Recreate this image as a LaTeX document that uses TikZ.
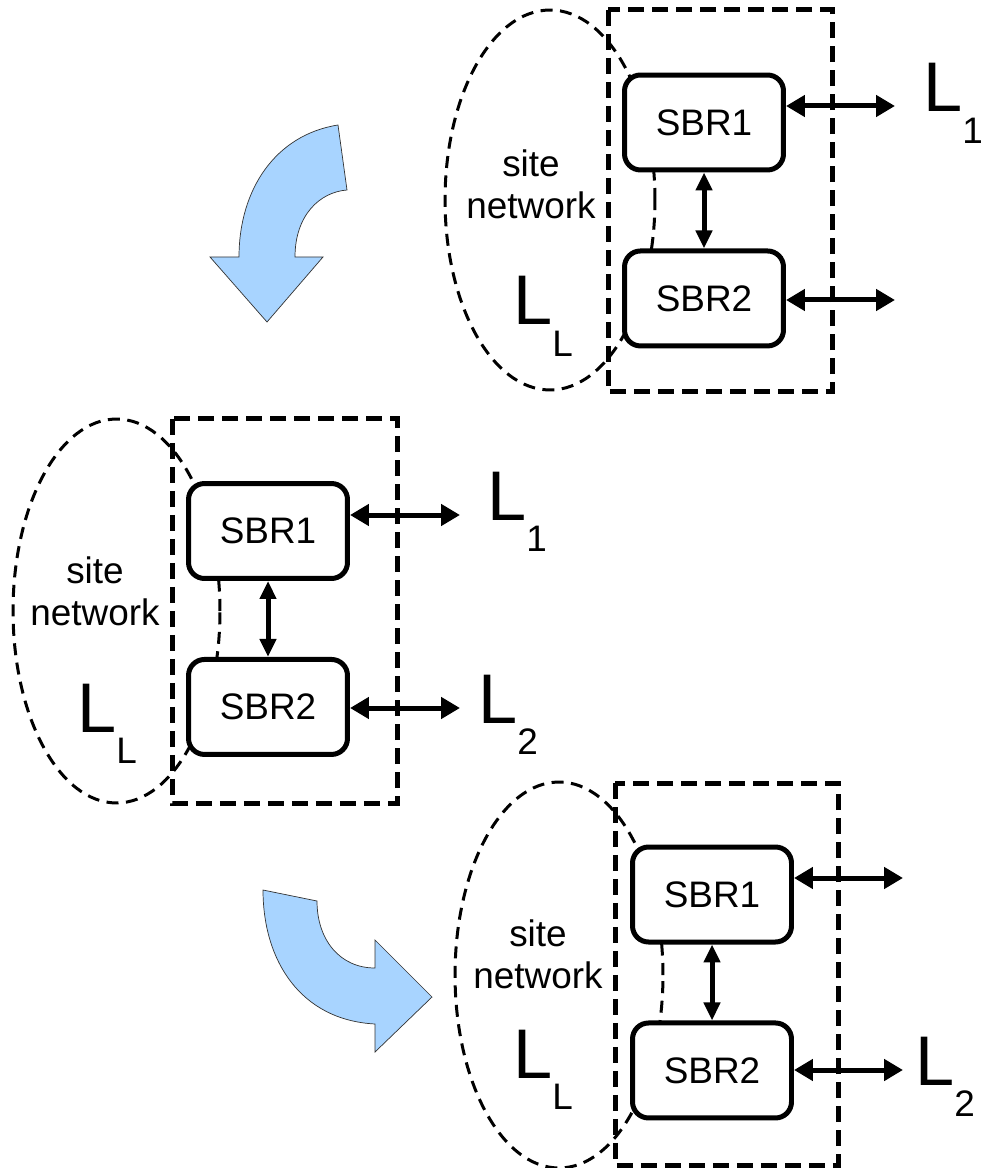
\documentclass[tikz,border=0pt]{standalone}
\usepackage{fontspec}
\setmainfont{Liberation Sans}
\usetikzlibrary{positioning,arrows.meta}

\definecolor{turnblue}{RGB}{168,212,255}

\tikzset{
  sbr/.style={draw, line width=0.1cm, rounded corners=0.32cm, fill=white,
    minimum width=3.18cm, minimum height=1.9cm, font=\fontsize{21}{24}\selectfont},
  site/.style={line width=0.06cm, dash pattern=on 0.24cm off 0.15cm},
  border/.style={line width=0.1cm, dash pattern=on 0.32cm off 0.16cm},
  link/.style={line width=0.1cm,
    {Triangle[length=0.38cm,width=0.42cm]}-{Triangle[length=0.38cm,width=0.42cm]}},
  uplink/.style={line width=0.1cm,
    {Triangle[length=0.36cm,width=0.32cm]}-{Triangle[length=0.36cm,width=0.32cm]}},
  turn/.style={fill=turnblue, draw=black!80, line width=0.4pt},
  big/.style={anchor=base west, inner sep=0pt, font=\fontsize{40}{40}\selectfont},
  net/.style={align=center, font=\fontsize{21}{24}\selectfont}
}
\newcommand{\lname}[1]{L\raisebox{-0.63cm}{\fontsize{21}{21}\selectfont #1}}

\begin{document}
\begin{tikzpicture}[x=0.02cm,y=-0.02cm]
        \useasboundingbox (0,0) rectangle (982,1168);

        % turning arrows
        \draw[turn] (338,125) -- (347,190) .. controls (320,192) and (295,215) .. (295,257)
          -- (323,257) -- (267,322) -- (210,257) -- (239,257)
          .. controls (239,190) and (275,135) .. (338,125) -- cycle;
        \draw[turn] (263,890) -- (317,901) .. controls (317,940) and (340,968) .. (375,968)
          -- (375,940) -- (432,997) -- (375,1052) -- (375,1024)
          .. controls (300,1020) and (263,960) .. (263,890) -- cycle;

        % top: L1 only
        \draw[site] (550,200) ellipse [x radius=2.1cm, y radius=3.8cm];
        \draw[border] (608,10) rectangle (832,392);
        \node[sbr] (sbrA1) at (704,122.5) {SBR1};
        \node[sbr,below=1.52cm of sbrA1] (sbrA2) {SBR2};
        \node[net] (netA) at (531,184) {site\\network};
        \node[big] (llA) at (513,325) {\lname{L}};
        \coordinate (outA1) at (895,106);
        \coordinate (outA2) at (895,300);
        \draw[uplink] (sbrA1) -- (sbrA2);
        \draw[link] (sbrA1.east |- outA1) -- (outA1);
        \draw[link] (sbrA2.east |- outA2) -- (outA2);
        \node[big] (lA1) at (923,112) {\lname{1}};

        % middle: L1 and L2
        \draw[site] (116.5,611) ellipse [x radius=2.07cm, y radius=3.84cm];
        \draw[border] (172,419) rectangle (397,803);
        \node[sbr] (sbrB1) at (268,531) {SBR1};
        \node[sbr,below=1.52cm of sbrB1] (sbrB2) {SBR2};
        \node[net] (netB) at (95,591) {site\\network};
        \node[big] (llB) at (77,732) {\lname{L}};
        \coordinate (outB1) at (460,515);
        \coordinate (outB2) at (460,708);
        \draw[uplink] (sbrB1) -- (sbrB2);
        \draw[link] (sbrB1.east |- outB1) -- (outB1);
        \draw[link] (sbrB2.east |- outB2) -- (outB2);
        \node[big] (lB1) at (487,520) {\lname{1}};
        \node[big] (lB2) at (478,723) {\lname{2}};

        % bottom: L2 only
        \draw[site] (559,975) ellipse [x radius=2.08cm, y radius=3.86cm];
        \draw[border] (615,783) rectangle (838,1165);
        \node[sbr] (sbrC1) at (712,894.5) {SBR1};
        \node[sbr,below=1.52cm of sbrC1] (sbrC2) {SBR2};
        \node[net] (netC) at (538,954) {site\\network};
        \node[big] (llC) at (513,1078) {\lname{L}};
        \coordinate (outC1) at (903,878);
        \coordinate (outC2) at (903,1070);
        \draw[uplink] (sbrC1) -- (sbrC2);
        \draw[link] (sbrC1.east |- outC1) -- (outC1);
        \draw[link] (sbrC2.east |- outC2) -- (outC2);
        \node[big] (lC2) at (915,1085) {\lname{2}};
      \end{tikzpicture}
\end{document}
